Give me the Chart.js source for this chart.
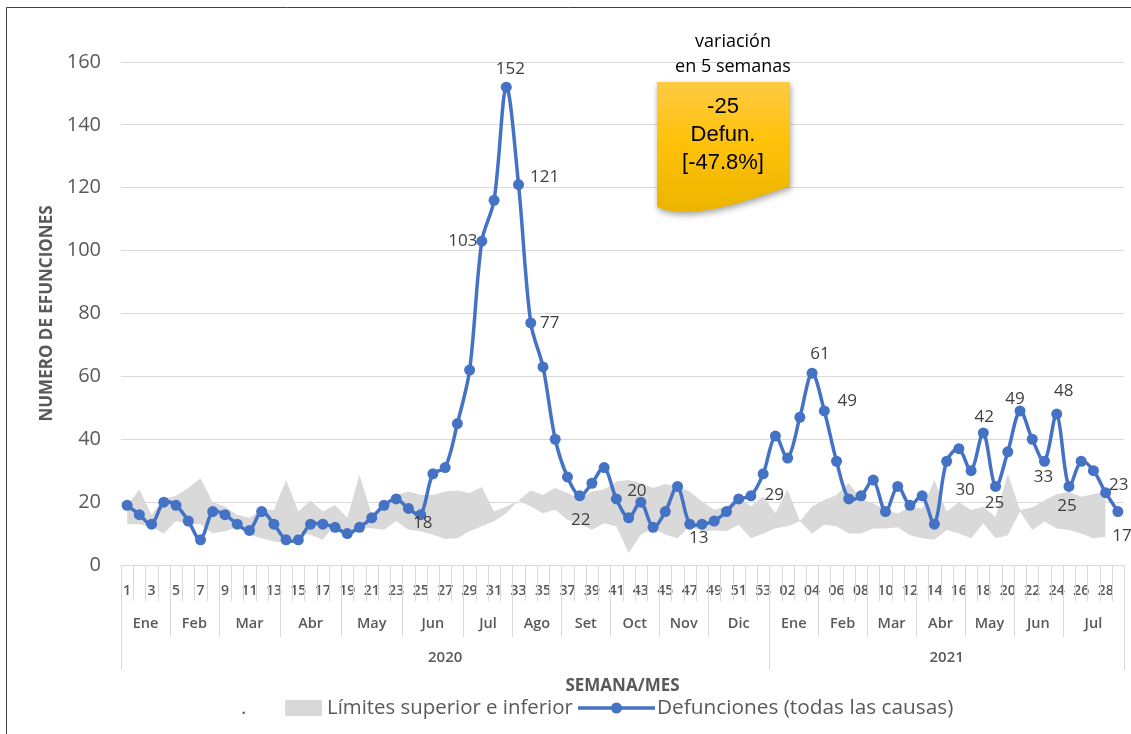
<!DOCTYPE html>
<html>
<head>
<meta charset="utf-8">
<script src="https://cdn.jsdelivr.net/npm/chart.js@4.4.1/dist/chart.umd.min.js"></script>
<style>
html,body{margin:0;padding:0;background:#fff;}
canvas{display:block;}
</style>
</head>
<body>
<canvas id="c" width="1131" height="734"></canvas>
<script>
// ---------- DATA ----------
const weeks2020 = ['1','2','3','4','5','6','7','8','9','10','11','12','13','14','15','16','17','18','19','20','21','22','23','24','25','26','27','28','29','30','31','32','33','34','35','36','37','38','39','40','41','42','43','44','45','46','47','48','49','50','51','52','53'];
const weeks2021 = ['01','02','03','04','05','06','07','08','09','10','11','12','13','14','15','16','17','18','19','20','21','22','23','24','25','26','27','28','29'];

const months = ['Ene','Feb','Mar','Abr','May','Jun','Jul','Ago','Set','Oct','Nov','Dic','Ene','Feb','Mar','Abr','May','Jun','Jul'];
const monthWeeks = [4,4,5,5,5,5,4,4,4,4,4,5,4,4,4,4,4,4,5];
const years = ['2020','2021'];
const yearWeeks = [53,29];

const deaths2020 = [19,16,13,20,19,14,8,17,16,13,11,17,13,8,8,13,13,12,10,12,15,19,21,18,16,29,31,45,62,103,116,152,121,77,63,40,28,22,26,31,21,15,20,12,17,25,13,13,14,17,21,22,29];
const deaths2021 = [41,34,47,61,49,33,21,22,27,17,25,19,22,13,33,37,30,42,25,36,49,40,33,48,25,33,30,23,17];

const upper2020 = [19,24,16,21,22,24.5,27.6,20,18.6,16,15,17.6,17.6,27,17,20.5,17,19,15,28.7,16,19.7,22.3,23.4,22.3,22.3,23.4,23.7,22.9,24.8,17,18.6,20.5,23.7,22.3,24.5,22.9,21,23.4,24,26.6,27,26,24.5,25.8,25,23.4,20.2,17.6,18.6,21.8,18.6,21.8];
const upper2021 = [16.5,24,13.9,18.6,20.7,22.3,26,21,19.6,17.5,16.4,18.5,18,27,17,20,17.5,18.5,15.3,29,17.5,18.3,20.6,22.5,23.3,21.7,22.5,23.6,null];
const lower2020 = [13,13,12,10,14,13,13,10,10.7,12,9.6,8.5,7.5,7,10,9.6,8,12.8,9.6,12,11.7,11.2,14,11.2,10.7,9.6,8.3,8.5,10.7,12.3,13.9,16.5,20.5,18.6,16.5,17.6,14.4,13.3,11.2,13.3,12.3,3.8,9.6,11.7,9.6,8.5,12.3,10.7,11,10.7,12.8,8.5,10];
const lower2021 = [11.7,12.3,13.9,10,12.8,12.3,10,10,11.6,11.6,12,9.5,8.5,8,11.1,10,8.5,13.3,8.5,9.5,17,11.1,13.8,11.6,11.1,10,8.5,9,null];

// data label texts (index in full series -> text)
const labelIndex = [24,29,31,32,33,37,42,46,52,56,57,69,70,71,73,75,76,77,80,81];
const labelText  = ['18','103','152','121','77','22','20','13','29','61','49','30','42','25','49','33','48','25','23','17'];
// label placement offsets (style)
const labelOffset = [[2,8],[-19,0],[4,-18],[26,-7],[19,0],[1,24],[-4,-11],[9,14],[11,21],[8,-19],[23,-10],[-6,19],[1,-16],[-1,17],[-5,-12],[-1,16],[7,-23],[-2,20],[13,-8],[4,25]];

const categories = weeks2020.concat(weeks2021);
const deaths = deaths2020.concat(deaths2021);
const upper = upper2020.concat(upper2021);
const lower = lower2020.concat(lower2021);

const GREY = '#595959';
const FONT = "'Open Sans', sans-serif";

// ---------- PLUGINS ----------
const axisRows = {
  id: 'axisRows',
  afterDraw(chart) {
    const ctx = chart.ctx, xs = chart.scales.x, top = chart.chartArea.bottom;
    const step = xs.getPixelForValue(1) - xs.getPixelForValue(0);
    const edge = i => xs.getPixelForValue(i) - step / 2;
    const vline = (i, len) => {
      const px = Math.round(edge(i)) + 0.5;
      ctx.beginPath(); ctx.moveTo(px, top); ctx.lineTo(px, top + len); ctx.stroke();
    };
    ctx.save();
    ctx.strokeStyle = '#d9d9d9'; ctx.lineWidth = 1;
    for (let i = 0; i <= categories.length; i++) vline(i, 36);
    ctx.fillStyle = GREY; ctx.textAlign = 'center'; ctx.textBaseline = 'middle';
    ctx.font = `600 14.5px ${FONT}`;
    let k = 0;
    vline(0, 72);
    months.forEach((m, j) => {
      const a = k, b = k + monthWeeks[j];
      vline(b, 72);
      ctx.fillText(m, (edge(a) + edge(b)) / 2, top + 59);
      k = b;
    });
    ctx.font = `600 15px ${FONT}`;
    k = 0;
    vline(0, 105);
    years.forEach((y, j) => {
      const a = k, b = k + yearWeeks[j];
      vline(b, 105);
      ctx.fillText(y, (edge(a) + edge(b)) / 2, top + 93);
      k = b;
    });
    ctx.restore();
  }
};

const dataLabels = {
  id: 'dataLabels',
  afterDatasetsDraw(chart) {
    const ctx = chart.ctx;
    const meta = chart.getDatasetMeta(2);
    ctx.save();
    ctx.font = `17px ${FONT}`;
    ctx.fillStyle = '#404040';
    ctx.textAlign = 'center'; ctx.textBaseline = 'middle';
    labelIndex.forEach((idx, j) => {
      const p = meta.data[idx];
      ctx.fillText(labelText[j], p.x + labelOffset[j][0], p.y + labelOffset[j][1]);
    });
    ctx.restore();
  }
};

const decorations = {
  id: 'decorations',
  afterDraw(chart) {
    const ctx = chart.ctx;
    ctx.save();
    // chart border
    ctx.strokeStyle = '#404040'; ctx.lineWidth = 1;
    ctx.beginPath(); ctx.moveTo(6.5, 734); ctx.lineTo(6.5, 7.5); ctx.lineTo(1131, 7.5); ctx.stroke();

    // callout title
    ctx.fillStyle = '#000'; ctx.textAlign = 'center'; ctx.textBaseline = 'middle';
    ctx.font = `18px ${FONT}`;
    ctx.fillText('variación', 733, 42);
    ctx.fillText('en 5 semanas', 733, 67);

    // callout document shape
    ctx.save();
    ctx.shadowColor = 'rgba(0,0,0,0.35)'; ctx.shadowBlur = 6; ctx.shadowOffsetX = 1; ctx.shadowOffsetY = 3;
    const g = ctx.createLinearGradient(0, 82, 0, 213);
    g.addColorStop(0, '#ffca45'); g.addColorStop(0.45, '#ffc20a'); g.addColorStop(1, '#ebb400');
    ctx.fillStyle = g;
    ctx.beginPath();
    ctx.moveTo(657, 82); ctx.lineTo(790, 82); ctx.lineTo(790, 186);
    ctx.bezierCurveTo(750, 200, 690, 222, 657, 207);
    ctx.closePath(); ctx.fill();
    ctx.restore();
    ctx.fillStyle = '#000';
    ctx.font = "22px 'Liberation Sans', Arial, sans-serif";
    ctx.fillText('-25', 723, 107);
    ctx.fillText('Defun.', 723, 135);
    ctx.fillText('[-47.8%]', 723, 163);

    // legend
    const ly = 708;
    ctx.textAlign = 'left';
    ctx.font = `20.4px ${FONT}`;
    ctx.fillStyle = GREY;
    ctx.fillText(chart.data.datasets[0].label, 241, ly);
    ctx.fillStyle = chart.data.datasets[1].backgroundColor;
    ctx.fillRect(285, 700, 37, 16);
    ctx.fillStyle = GREY;
    ctx.fillText(chart.data.datasets[1].label, 327, ly);
    const ds = chart.data.datasets[2];
    ctx.strokeStyle = ds.borderColor; ctx.lineWidth = 3.5;
    ctx.beginPath(); ctx.moveTo(578, ly); ctx.lineTo(655, ly); ctx.stroke();
    ctx.fillStyle = ds.borderColor;
    ctx.beginPath(); ctx.arc(616.5, ly, 5.5, 0, Math.PI * 2); ctx.fill();
    ctx.fillStyle = GREY;
    ctx.font = `20.8px ${FONT}`;
    ctx.fillText(ds.label, 657, ly);
    ctx.restore();
  }
};

// ---------- CHART ----------
new Chart(document.getElementById('c'), {
  type: 'line',
  data: {
    labels: categories,
    datasets: [
      { label: '.', data: lower, borderWidth: 0, pointRadius: 0, fill: false, backgroundColor: 'rgba(0,0,0,0)', borderColor: 'rgba(0,0,0,0)', tension: 0, order: 3 },
      { label: 'Límites superior e inferior', data: upper, borderWidth: 0, pointRadius: 0, fill: '-1', backgroundColor: '#d9d9d9', borderColor: 'rgba(0,0,0,0)', tension: 0, order: 2 },
      { label: 'Defunciones (todas las causas)', data: deaths, borderColor: '#4472c4', backgroundColor: '#4472c4', borderWidth: 3.5, pointRadius: 5.5, pointBackgroundColor: '#4472c4', pointBorderWidth: 0, pointHoverRadius: 5.5, tension: 0.33, fill: false, order: 1 }
    ]
  },
  options: {
    responsive: false,
    animation: false,
    events: [],
    layout: { padding: { left: 30, right: 7, top: 62, bottom: 34 } },
    plugins: { legend: { display: false }, tooltip: { enabled: false } },
    scales: {
      x: {
        type: 'category',
        offset: true,
        grid: { display: false },
        border: { display: false },
        ticks: {
          autoSkip: false, maxRotation: 0, minRotation: 0, padding: 10,
          color: GREY, font: { family: FONT, size: 14, weight: '600' },
          callback: function (v, i) { return i % 2 === 0 ? this.getLabelForValue(v) : ''; }
        },
        title: { display: true, text: 'SEMANA/MES', color: GREY, font: { family: FONT, size: 17, weight: 'bold' }, padding: { top: 0, bottom: 4 } },
        afterFit(s) { s.height = 135; }
      },
      y: {
        min: 0, max: 160,
        ticks: { stepSize: 20, padding: 20, color: GREY, font: { family: FONT, size: 20 } },
        grid: { color: '#d9d9d9', lineWidth: 1, drawTicks: false },
        border: { display: false },
        title: { display: true, text: 'NUMERO DE EFUNCIONES', color: GREY, font: { family: FONT, size: 17, weight: 'bold' }, padding: { top: 7, bottom: 0 } },
        afterFit(s) { s.width = 91; }
      }
    }
  },
  plugins: [axisRows, dataLabels, decorations]
});
</script>
</body>
</html>
